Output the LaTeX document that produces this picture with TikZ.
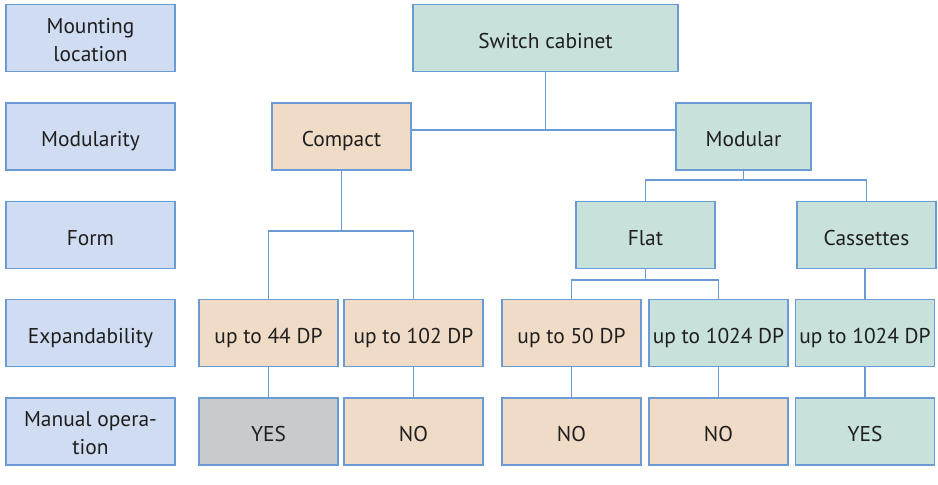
\documentclass[tikz,border=0pt]{standalone}
\usepackage{fontspec}
\setmainfont{PT Sans}
\usetikzlibrary{positioning}
\definecolor{edgeblue}{RGB}{106,155,213}
\definecolor{rowblue}{RGB}{207,220,241}
\definecolor{boxgreen}{RGB}{200,225,219}
\definecolor{boxpeach}{RGB}{240,219,199}
\definecolor{boxgrey}{RGB}{199,203,206}
\begin{document}
\begin{tikzpicture}[x=1pt,y=-1pt,
  every node/.style={draw=edgeblue,line width=1.3pt,inner sep=0pt,
    minimum height=67pt,minimum width=139pt,align=center,
    text height=20pt,text depth=0pt,
    font=\fontsize{21.4}{28}\selectfont,text=black!88},
  twoline/.style={text height=46pt},
  rowlabel/.style={fill=rowblue,minimum width=169pt},
  green/.style={fill=boxgreen},peach/.style={fill=boxpeach},
  grey/.style={fill=boxgrey},
  link/.style={draw=edgeblue,line width=1.3pt}]
\useasboundingbox (0,0) rectangle (938,485);
% row labels
\node[rowlabel,twoline] (r1) at (90.5,38) {Mounting\\location};
\node[rowlabel] (r2) at (90.5,136.5) {Modularity};
\node[rowlabel] (r3) at (90.5,235) {Form};
\node[rowlabel] (r4) at (90.5,333) {Expandability};
\node[rowlabel,twoline] (r5) at (90.5,431.5) {Manual opera-\\tion};
% tree
\node[green,minimum width=265pt] (sc) at (545.5,38) {Switch cabinet};
\node[peach] (cmp) at (341.5,136.5) {Compact};
\node[green,minimum width=135pt] (mod) at (743.5,136.5) {Modular};
\node[green] (flat) at (645.5,235) {Flat};
\node[green] (cas) at (866.5,235) {Cassettes};
\node[peach] (e44) at (268.5,333) {up to 44 DP};
\node[peach] (e102) at (413.5,333) {up to 102 DP};
\node[peach] (e50) at (571.5,333) {up to 50 DP};
\node[green] (f1024) at (718.5,333) {up to 1024 DP};
\node[green] (c1024) at (865,333) {up to 1024 DP};
\node[grey] (m44) at (268.5,431.5) {YES};
\node[peach] (m102) at (413.5,431.5) {NO};
\node[peach] (m50) at (571.5,431.5) {NO};
\node[peach] (mf) at (718.5,431.5) {NO};
\node[green] (mc) at (865,431.5) {YES};
% junctions
\coordinate (j1) at (545.5,130);
\coordinate (j2) at (341.5,231);
\coordinate (j3) at (743.5,180);
\coordinate (j4) at (645.5,280);
\draw[link] (sc.south) -- (j1);
\draw[link] (cmp.east |- j1) -- (mod.west |- j1);
\draw[link] (cmp.south) -- (j2);
\draw[link] (e44.north) |- (j2) -| (e102.north);
\draw[link] (mod.south) -- (j3);
\draw[link] (flat.north) |- (j3) -| (cas.north);
\draw[link] (flat.south) -- (j4);
\draw[link] (e50.north) |- (j4) -| (f1024.north);
\draw[link] (c1024.north |- cas.south) -- (c1024.north);
\draw[link] (e44) -- (m44);
\draw[link] (e102) -- (m102);
\draw[link] (e50) -- (m50);
\draw[link] (f1024) -- (mf);
\draw[link] (c1024) -- (mc);
\end{tikzpicture}
\end{document}
